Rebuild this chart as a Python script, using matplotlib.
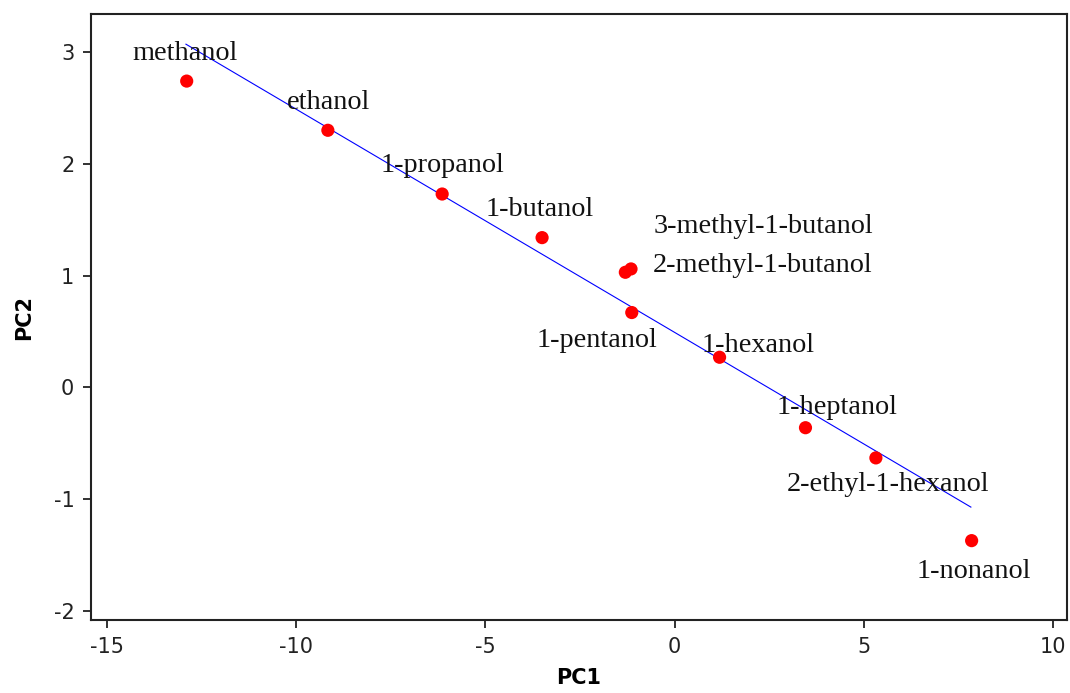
import matplotlib
matplotlib.use("Agg")
import matplotlib.pyplot as plt

plt.rcParams["axes.unicode_minus"] = False

# PCA scores of the alcohols
names = ["methanol", "ethanol", "1-propanol", "1-butanol",
         "3-methyl-1-butanol", "2-methyl-1-butanol", "1-pentanol",
         "1-hexanol", "1-heptanol", "2-ethyl-1-hexanol", "1-nonanol"]
pc1 = [-12.89, -9.16, -6.14, -3.50, -1.15, -1.30, -1.13, 1.19, 3.46, 5.32, 7.85]
pc2 = [2.74, 2.30, 1.73, 1.34, 1.06, 1.03, 0.67, 0.27, -0.36, -0.63, -1.37]

# fitted trend line (end points)
fit_x = [-12.91, 7.83]
fit_y = [3.07, -1.07]

# label offsets in pixels from the point, and alignment
lab_off = [(-2, 28), (1, 28), (0, 29), (-2, 28), (23, 42), (27, 7),
           (-35, -28), (38, 12), (32, 20), (12, -27), (2, -31)]
lab_ha = ["center", "center", "center", "center", "left", "left",
          "center", "center", "center", "center", "center"]

fig = plt.figure(figsize=(10.70, 6.93), dpi=100)
ax = fig.add_axes([0.085, 0.1053, 0.9122, 0.8745])

ax.plot(fit_x, fit_y, color="blue", lw=0.8, zorder=2)
ax.scatter(pc1, pc2, s=90, color="red", edgecolors="none", zorder=3)

for n, x, y, (dx, dy), ha in zip(names, pc1, pc2, lab_off, lab_ha):
    ax.annotate(n, (x, y), xytext=(dx, dy), textcoords="offset pixels",
                ha=ha, va="center", fontsize=20.3,
                family="Liberation Serif", color="#111111", zorder=4)

ax.set_xlim(-15.42, 10.37)
ax.set_ylim(-2.08, 3.34)
ax.set_xticks([-15, -10, -5, 0, 5, 10])
ax.set_yticks([-2, -1, 0, 1, 2, 3])
ax.tick_params(direction="out", length=6, width=1.3, labelsize=15,
               colors="#222222", pad=6)
for s in ax.spines.values():
    s.set_linewidth(1.5)
    s.set_color("#222222")

ax.set_xlabel("PC1", fontsize=15, fontweight="bold", labelpad=8)
ax.set_ylabel("PC2", fontsize=15, fontweight="bold", labelpad=14)

fig.savefig("out.png", dpi=100)
